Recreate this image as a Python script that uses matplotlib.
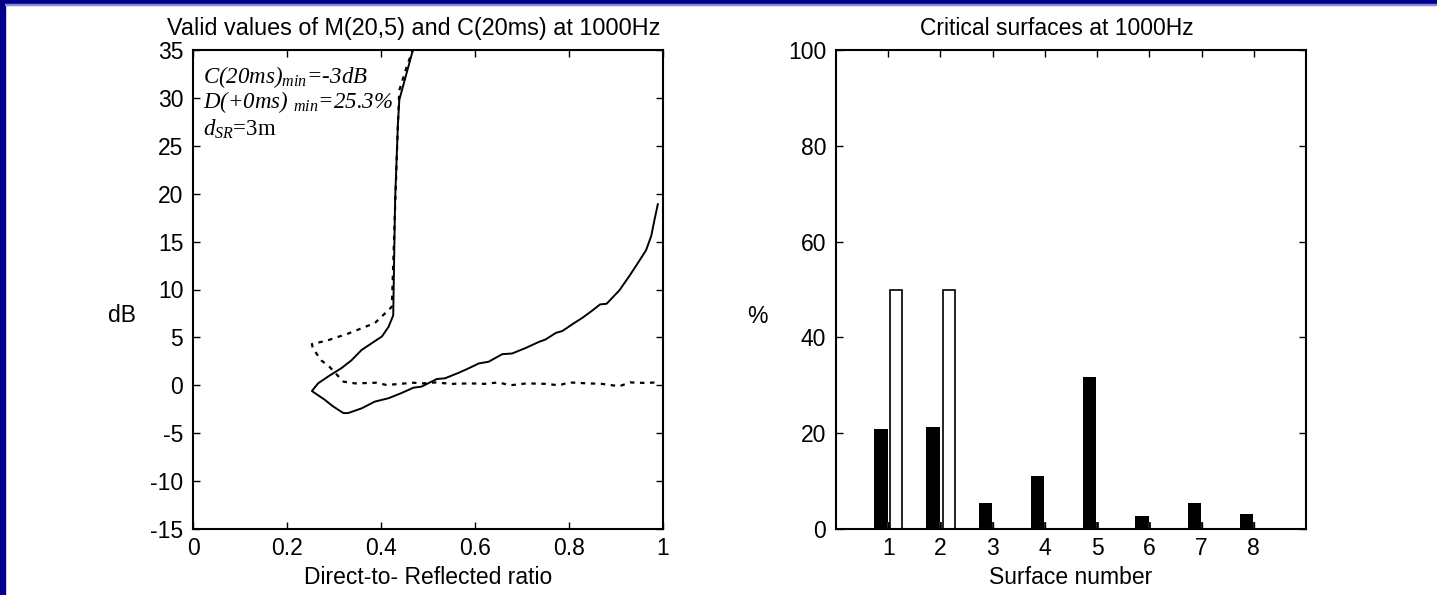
import matplotlib.pyplot as plt
from matplotlib.patches import Rectangle

plt.rcParams['font.family'] = ['Liberation Sans', 'DejaVu Sans']
plt.rcParams['mathtext.fontset'] = 'custom'
plt.rcParams['mathtext.it'] = 'Liberation Serif:italic'
plt.rcParams['mathtext.rm'] = 'Liberation Serif:italic'
plt.rcParams['axes.unicode_minus'] = False

# left panel: valid M(20,5) / C(20ms) curves
solid_x = [0.469, 0.439, 0.436, 0.430, 0.426, 0.416, 0.402, 0.359, 0.337, 0.316, 0.287, 0.266,
           0.253, 0.280, 0.298, 0.320, 0.330, 0.359, 0.387, 0.416, 0.444, 0.469, 0.486, 0.519,
           0.536, 0.565, 0.586, 0.608, 0.629, 0.658, 0.679, 0.708, 0.736, 0.750, 0.772, 0.786,
           0.807, 0.829, 0.850, 0.866, 0.880, 0.907, 0.929, 0.947, 0.964, 0.975, 0.982, 0.989]
solid_y = [35.2, 29.8, 27.3, 19.3, 7.3, 6.1, 5.1, 3.7, 2.6, 1.8, 0.9, 0.2,
           -0.6, -1.5, -2.2, -2.9, -2.9, -2.4, -1.7, -1.35, -0.8, -0.25, -0.14, 0.66,
           0.73, 1.3, 1.76, 2.28, 2.46, 3.25, 3.32, 3.9, 4.53, 4.78, 5.47, 5.67,
           6.37, 7.06, 7.82, 8.44, 8.51, 9.9, 11.45, 12.8, 14.1, 15.6, 17.3, 18.9]

dash_x = [0.469, 0.455, 0.439, 0.436, 0.430, 0.423, 0.419, 0.387, 0.330, 0.287, 0.253, 0.255,
          0.273, 0.291, 0.320, 0.345, 0.39, 0.412, 0.469, 0.49, 0.515, 0.55, 0.59, 0.62,
          0.65, 0.675, 0.71, 0.75, 0.779, 0.80, 0.84, 0.87, 0.907, 0.93, 0.96, 0.99]
dash_y = [35.2, 33.3, 30.8, 27.3, 18.6, 8.2, 8.0, 6.5, 5.4, 4.7, 4.3, 3.85,
          2.6, 1.9, 0.38, 0.2, 0.27, 0.03, 0.27, 0.2, 0.3, 0.15, 0.2, 0.15,
          0.3, 0.0, 0.2, 0.15, 0.0, 0.3, 0.2, 0.15, -0.1, 0.3, 0.25, 0.3]

# right panel: critical surfaces
surfaces = [1, 2, 3, 4, 5, 6, 7, 8]
black_pct = [20.9, 21.3, 5.45, 11.0, 31.7, 2.8, 5.45, 3.1]
small_pct = [1.4, 1.4, 1.4, 1.4, 1.4, 1.4, 1.4, 1.4]
white_pct = [50, 50, 0, 0, 0, 0, 0, 0]

FS = 16.5

fig = plt.figure(figsize=(14.37, 5.95), dpi=100)

# blue frame from the slide
fig.patches.append(Rectangle((0, 0), 5 / 1437, 1, transform=fig.transFigure, color='#00008c', zorder=0))
fig.patches.append(Rectangle((0, 1 - 4 / 595), 1, 4 / 595, transform=fig.transFigure, color='#00008c', zorder=0))
fig.patches.append(Rectangle((5 / 1437, 1 - 5 / 595), 1, 1 / 595, transform=fig.transFigure, color='#8888dd', zorder=0))

ax1 = fig.add_axes([193 / 1437, 66 / 595, 470 / 1437, 479 / 595])
ax2 = fig.add_axes([836 / 1437, 66 / 595, 470 / 1437, 479 / 595])

ax1.plot(solid_x, solid_y, color='black', lw=1.4)
ax1.plot(dash_x, dash_y, color='black', lw=1.6, linestyle=(0, (2, 2.5)))
ax1.set_xlim(0, 1)
ax1.set_ylim(-15, 35)
ax1.set_xticks([0, 0.2, 0.4, 0.6, 0.8, 1])
ax1.set_xticklabels(['0', '0.2', '0.4', '0.6', '0.8', '1'])
ax1.set_yticks(range(-15, 36, 5))
ax1.set_title('Valid values of M(20,5) and C(20ms) at 1000Hz', fontsize=16.8, pad=11, x=0.47)
ax1.set_xlabel('Direct-to- Reflected ratio', fontsize=FS)
ax1.set_ylabel('dB', fontsize=FS, rotation=0, ha='center', va='center')
ax1.yaxis.set_label_coords(-0.151, 0.445)

ax1.text(0.021, 31.6, 'C(20ms)${}_{min}$=-3dB', family='Liberation Serif', style='italic', fontsize=16.5)
ax1.text(0.021, 28.95, 'D(+0ms) ${}_{min}$=25.3%', family='Liberation Serif', style='italic', fontsize=16.5)
ax1.text(0.021, 26.1, '$d_{SR}$=3m', family='Liberation Serif', fontsize=16.5)

black_x = [s - 0.14 for s in surfaces]
small_x = [s + 0.005 for s in surfaces]
white_x = [s + 0.155 for s in surfaces]
ax2.bar(black_x, black_pct, width=0.255, color='black')
ax2.bar(small_x, small_pct, width=0.05, color='#333333')
ax2.bar([x for x, w in zip(white_x, white_pct) if w > 0], [w for w in white_pct if w > 0],
        width=0.23, color='white', edgecolor='black', lw=1.2)
ax2.set_xlim(0, 9)
ax2.set_ylim(0, 100)
ax2.set_xticks(surfaces)
ax2.set_yticks(range(0, 101, 20))
ax2.set_title('Critical surfaces at 1000Hz', fontsize=FS, pad=11, x=0.47)
ax2.set_xlabel('Surface number', fontsize=FS)
ax2.set_ylabel('%', fontsize=FS, rotation=0, ha='center', va='center')
ax2.yaxis.set_label_coords(-0.168, 0.443)

for ax in (ax1, ax2):
    for sp in ax.spines.values():
        sp.set_linewidth(1.5)
    ax.tick_params(direction='in', length=5, width=1, top=True, right=True, labelsize=FS)
    ax.tick_params(axis='x', pad=6)
    ax.tick_params(axis='y', pad=7)

fig.savefig('out.png', dpi=100)
